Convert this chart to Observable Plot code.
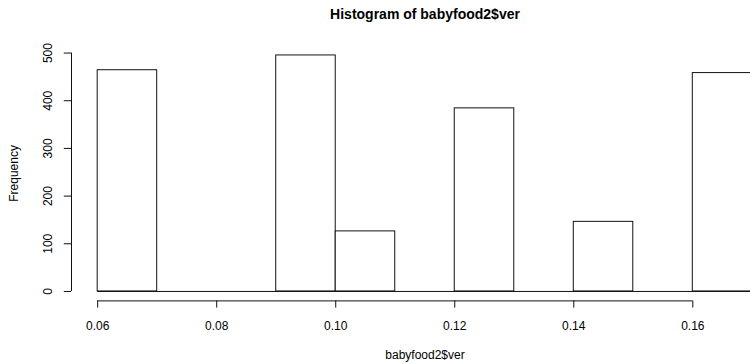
<!DOCTYPE html>
<html><head><meta charset="utf-8">
<script src="https://cdn.jsdelivr.net/npm/d3@7"></script>
<script src="https://cdn.jsdelivr.net/npm/@observablehq/plot@0.6"></script>
<style>html,body{margin:0;padding:0;background:#fff}svg{display:block}</style>
</head><body><div id="chart"></div>
<script>
// Data
const binStarts = [0.06, 0.07, 0.08, 0.09, 0.10, 0.11, 0.12, 0.13, 0.14, 0.15, 0.16];
const binWidth = 0.01;
const counts = [464, 0, 0, 495, 126, 0, 384, 0, 146, 0, 458];
const xTicks = [0.06, 0.08, 0.10, 0.12, 0.14, 0.16];
const yTicks = [0, 100, 200, 300, 400, 500];
const titleText = "Histogram of babyfood2$ver";
const xLabelText = "babyfood2$ver";
const yLabelText = "Frequency";

const bins = binStarts.map((s, i) => ({x1: s, x2: +(s + binWidth).toFixed(4), count: counts[i]}));
const xMin = binStarts[0], xMax = +(binStarts[binStarts.length - 1] + binWidth).toFixed(4);
const xPad = (xMax - xMin) * 0.04;
const xDomain = [xMin - xPad, xMax + xPad];
const yMax = d3.max(counts);
const yDomain = [-yMax * 0.04, yMax * 1.04];
const xMid = (xDomain[0] + xDomain[1]) / 2;
const yMid = (yDomain[0] + yDomain[1]) / 2;

const chart = Plot.plot({
  width: 750,
  height: 364,
  marginLeft: 71,
  marginRight: 0,
  marginTop: 45.5,
  marginBottom: 63.6,
  style: {fontFamily: "'Liberation Sans', Arial, Helvetica, sans-serif", fontSize: "12px", background: "#fff", color: "#000"},
  x: {domain: xDomain, range: [71, 778]},
  y: {domain: yDomain},
  marks: [
    Plot.rectY(bins, {x1: "x1", x2: "x2", y1: 0, y2: "count", fill: "white", stroke: "#111", strokeWidth: 1, inset: 0}),
    Plot.ruleY([0], {x1: xMin, x2: xMax, stroke: "#111"}),
    Plot.ruleY([yDomain[0]], {x1: xTicks[0], x2: xTicks[xTicks.length - 1], stroke: "#111"}),
    Plot.ruleX([xDomain[0]], {y1: yTicks[0], y2: yTicks[yTicks.length - 1], stroke: "#111"}),
    Plot.axisX(xTicks, {anchor: "bottom", tickSize: 7.2, tickPadding: 13.4, tickFormat: d3.format(".2f"), fontSize: 12, label: null, stroke: "#111"}),
    Plot.axisY(yTicks, {anchor: "left", tickSize: 7.2, tickPadding: 12, tickRotate: -90, textAnchor: "middle", lineAnchor: "bottom", fontSize: 12, label: null, stroke: "#111"}),
    Plot.text([titleText], {x: xMid, y: yDomain[1], dy: -31.5, text: d => d, fontWeight: "bold", fontSize: 14, textAnchor: "middle", lineAnchor: "middle"}),
    Plot.text([xLabelText], {x: xMid, y: yDomain[0], dy: 54.5, text: d => d, fontSize: 12, textAnchor: "middle", lineAnchor: "middle"}),
    Plot.text([yLabelText], {x: xDomain[0], y: yMid, dx: -57, text: d => d, fontSize: 12, rotate: -90, textAnchor: "middle", lineAnchor: "middle"})
  ]
});
document.getElementById("chart").appendChild(chart);
</script>
</body></html>
